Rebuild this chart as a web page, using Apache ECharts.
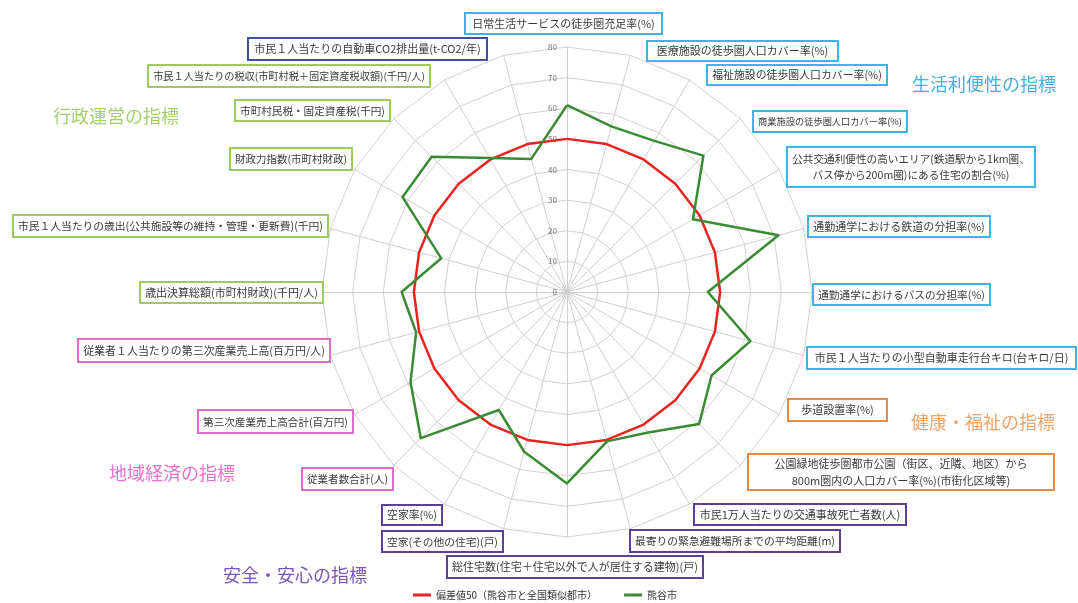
<!DOCTYPE html>
<html>
<head>
<meta charset="utf-8">
<script src="https://cdn.jsdelivr.net/npm/echarts@6/dist/echarts.min.js"></script>
<style>
  html, body { margin: 0; padding: 0; background: #ffffff; }
  #chart { width: 1078px; height: 603px; }
</style>
</head>
<body>
<div id="chart"></div>
<script>
// Indicators, listed clockwise from the top axis
const indicatorNames = [
  '日常生活サービスの徒歩圏充足率(%)',
  '医療施設の徒歩圏人口カバー率(%)',
  '福祉施設の徒歩圏人口カバー率(%)',
  '商業施設の徒歩圏人口カバー率(%)',
  '公共交通利便性の高いエリア(鉄道駅から1km圏、\nバス停から200m圏)にある住宅の割合(%)',
  '通勤通学における鉄道の分担率(%)',
  '通勤通学におけるバスの分担率(%)',
  '市民１人当たりの小型自動車走行台キロ(台キロ/日)',
  '歩道設置率(%)',
  '公園緑地徒歩圏都市公園（街区、近隣、地区）から\n800m圏内の人口カバー率(%)(市街化区域等)',
  '市民1万人当たりの交通事故死亡者数(人)',
  '最寄りの緊急避難場所までの平均距離(m)',
  '総住宅数(住宅＋住宅以外で人が居住する建物)(戸)',
  '空家(その他の住宅)(戸)',
  '空家率(%)',
  '従業者数合計(人)',
  '第三次産業売上高合計(百万円)',
  '従業者１人当たりの第三次産業売上高(百万円/人)',
  '歳出決算総額(市町村財政)(千円/人)',
  '市民１人当たりの歳出(公共施設等の維持・管理・更新費)(千円)',
  '財政力指数(市町村財政)',
  '市町村民税・固定資産税(千円)',
  '市民１人当たりの税収(市町村税＋固定資産税収額)(千円/人)',
  '市民１人当たりの自動車CO2排出量(t-CO2/年)'
];

// Indicator group of each axis (drives the frame colour of its label)
const indicatorGroups = [
  'life', 'life', 'life', 'life', 'life', 'life', 'life', 'life',
  'health', 'health',
  'safety', 'safety', 'safety', 'safety', 'safety',
  'economy', 'economy', 'economy',
  'admin', 'admin', 'admin', 'admin', 'admin',
  'env'
];

// Deviation scores
const baselineValues = [50, 50, 50, 50, 50, 50, 50, 50, 50, 50, 50, 50,
                        50, 50, 50, 50, 50, 50, 50, 50, 50, 50, 50, 50];
const cityValues = [61, 56, 57, 63, 47.5, 71.5, 46, 62, 54.5, 61, 53, 50.5,
                    62.5, 54, 44.5, 67.5, 59, 51, 54, 42.5, 62, 62.5, 50.5, 45];

const seriesNames = ['偏差値50（熊谷市と全国類似都市）', '熊谷市'];

const groupTitleKeys = ['life', 'health', 'safety', 'economy', 'admin'];
const groupTitleTexts = ['生活利便性の指標', '健康・福祉の指標', '安全・安心の指標', '地域経済の指標', '行政運営の指標'];

const scaleMin = 0;
const scaleMax = 80;
const scaleStep = 10;

// ---- styling / layout ----
const FONT = '"Noto Sans CJK JP", "Noto Sans", sans-serif';
const CENTER = [567, 292];
const RADIUS = 245;

const frameColors = {
  life: '#3fb4e3', health: '#e48a45', safety: '#5e3f98',
  economy: '#df6fc6', admin: '#9dca5e', env: '#3e50a0'
};
const titleColors = {
  life: '#49aedd', health: '#f0a468', safety: '#7a55b0',
  economy: '#ea6fc8', admin: '#a3cf6e'
};

// label frames: [x, y, width, height]
const labelBoxes = [
  [465, 13, 197, 21], [647, 41, 191, 20], [707, 65, 180, 20], [753, 111, 154, 21],
  [787, 147, 248, 40], [808, 216, 182, 21], [813, 284, 177, 21], [807, 347, 269, 22],
  [788, 399, 99, 22], [748, 454, 306, 36], [694, 504, 212, 21], [630, 530, 210, 22],
  [447, 556, 256, 22], [382, 531, 121, 21], [382, 505, 60, 20], [302, 468, 91, 22],
  [198, 410, 155, 23], [78, 339, 252, 23], [140, 282, 183, 21], [13, 215, 315, 22],
  [230, 148, 122, 22], [235, 100, 155, 21], [148, 65, 282, 22], [248, 38, 239, 22]
];
const titleCenters = {
  life: [984, 84], health: [983, 422], safety: [295, 575], economy: [172, 473], admin: [116, 116]
};

// text size that fills a frame's inner width
const measureCtx = document.createElement('canvas').getContext('2d');
function fitFontSize(text, boxWidth) {
  measureCtx.font = '10px ' + FONT;
  const widest = Math.max(...text.split('\n').map(line => measureCtx.measureText(line).width));
  const size = 10 * (boxWidth - 10) / widest;
  return Math.max(9, Math.min(11, size));
}

// ECharts lays radar axes counter-clockwise; reorder so the list reads clockwise
const n = indicatorNames.length;
const axisOrder = indicatorNames.map((_, i) => (n - i) % n);
const radarIndicators = axisOrder.map(() => ({ name: '', min: scaleMin, max: scaleMax }));
const ordered = arr => axisOrder.map(i => arr[i]);

const graphics = [];
indicatorNames.forEach((name, i) => {
  const [x, y, w, h] = labelBoxes[i];
  const fs = fitFontSize(name, w);
  graphics.push({
    type: 'rect', z: 100,
    shape: { x, y, width: w, height: h },
    style: { fill: '#ffffff', stroke: frameColors[indicatorGroups[i]], lineWidth: 2 }
  });
  graphics.push({
    type: 'text', z: 101,
    x: x + w / 2, y: y + h / 2,
    style: {
      text: name, fill: '#3a3a3a', fontSize: fs, fontFamily: FONT,
      align: 'center', verticalAlign: 'middle', lineHeight: Math.round(fs * 1.5)
    }
  });
});
groupTitleKeys.forEach((key, i) => {
  const [x, y] = titleCenters[key];
  graphics.push({
    type: 'text', z: 101, x, y,
    style: {
      text: groupTitleTexts[i], fill: titleColors[key], fontSize: 18, fontFamily: FONT,
      align: 'center', verticalAlign: 'middle'
    }
  });
});

const chart = echarts.init(document.getElementById('chart'));
chart.setOption({
  animation: false,
  backgroundColor: '#ffffff',
  textStyle: { fontFamily: FONT },
  legend: {
    left: 413, top: 590, padding: 0,
    icon: 'rect', itemWidth: 18, itemHeight: 3, itemGap: 27,
    textStyle: { fontSize: 10, color: '#333333', fontFamily: FONT },
    data: seriesNames
  },
  radar: {
    center: CENTER, radius: RADIUS, startAngle: 90,
    splitNumber: (scaleMax - scaleMin) / scaleStep,
    shape: 'polygon',
    indicator: radarIndicators,
    axisName: { show: false },
    axisLine: { lineStyle: { color: '#cfcfcf', width: 1 } },
    axisTick: { show: false },
    axisLabel: { show: false },
    splitLine: { lineStyle: { color: '#d2d2d2', width: 1 } },
    splitArea: { show: false }
  },
  // polar axis used only to print the scale along the top spoke
  polar: { center: CENTER, radius: RADIUS },
  angleAxis: { show: false, startAngle: 90, min: 0, max: 360 },
  radiusAxis: {
    min: scaleMin, max: scaleMax, interval: scaleStep,
    axisLine: { show: false }, axisTick: { show: false }, splitLine: { show: false },
    axisLabel: { fontSize: 8, color: '#707070', margin: 10, fontFamily: FONT }
  },
  series: [{
    type: 'radar',
    symbol: 'none',
    data: [
      {
        name: seriesNames[0], value: ordered(baselineValues),
        lineStyle: { color: '#e8231f', width: 2.5 }, itemStyle: { color: '#e8231f' }
      },
      {
        name: seriesNames[1], value: ordered(cityValues),
        lineStyle: { color: '#3b8b36', width: 2.5 }, itemStyle: { color: '#3b8b36' }
      }
    ]
  }],
  graphic: graphics
});
</script>
</body>
</html>
